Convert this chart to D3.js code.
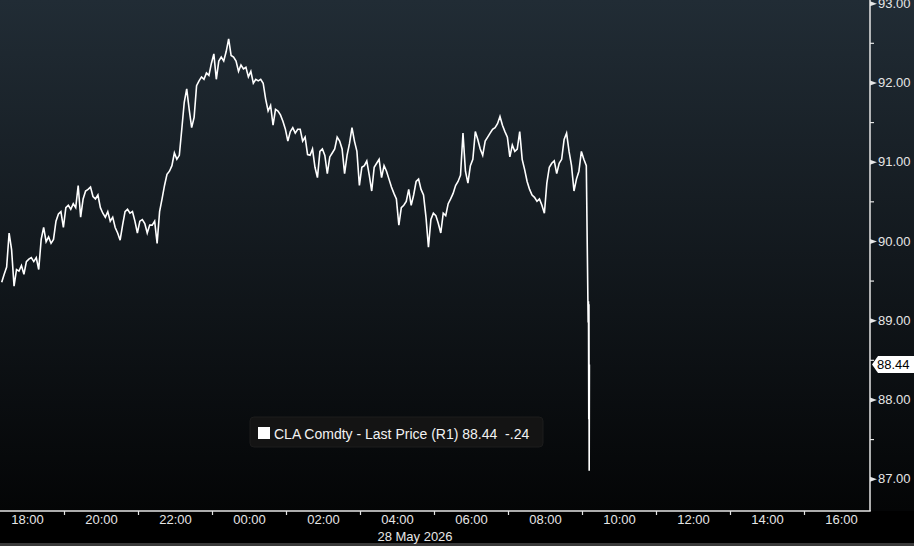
<!DOCTYPE html>
<html><head><meta charset="utf-8">
<script src="https://cdn.jsdelivr.net/npm/d3@7"></script>
<style>html,body{margin:0;padding:0;background:#000;} svg{display:block;}</style>
</head><body><svg id="chart" width="914" height="546"></svg>
<script>
// ---------------- data ----------------
const seriesName = "CLA Comdty - Last Price (R1)";
const lastPrice = 88.44;
const lastChange = "-.24";
const dateLabel = "28 May 2026";
const startTime = "2026-05-27T17:19:00";
const stepMinutes = 4;
const prices = [
 89.48,89.58,89.67,90.10,89.89,89.43,89.64,89.62,89.69,89.58,
 89.74,89.77,89.79,89.74,89.79,89.64,90.02,90.17,89.99,90.05,
 89.97,90.02,90.25,90.34,90.37,90.17,90.42,90.45,90.40,90.47,
 90.42,90.70,90.30,90.53,90.63,90.65,90.68,90.56,90.53,90.58,
 90.42,90.35,90.30,90.37,90.25,90.30,90.17,90.10,90.01,90.20,
 90.37,90.40,90.35,90.37,90.25,90.10,90.25,90.27,90.22,90.10,
 90.20,90.20,90.25,89.97,90.37,90.53,90.70,90.84,90.88,90.95,
 91.11,91.03,91.08,91.41,91.75,91.92,91.66,91.43,91.56,91.96,
 92.02,92.07,92.04,92.12,92.09,92.24,92.36,92.04,92.27,92.32,
 92.27,92.39,92.55,92.34,92.32,92.27,92.14,92.22,92.17,92.19,
 92.07,92.14,91.99,92.04,92.02,92.04,91.99,91.79,91.64,91.71,
 91.46,91.66,91.64,91.59,91.51,91.41,91.26,91.38,91.43,91.36,
 91.41,91.41,91.26,91.31,91.09,91.08,91.16,90.93,90.80,91.13,
 91.16,91.08,90.85,91.06,91.11,91.16,91.31,91.26,91.16,90.85,
 91.08,91.23,91.43,91.26,91.13,90.70,90.93,90.95,91.01,90.83,
 90.63,90.93,90.98,91.03,90.80,90.95,90.88,90.78,90.68,90.60,
 90.53,90.20,90.42,90.45,90.50,90.65,90.45,90.58,90.75,90.78,
 90.65,90.58,90.30,89.92,90.27,90.35,90.32,90.22,90.10,90.35,
 90.32,90.47,90.53,90.60,90.70,90.75,90.83,91.36,90.88,90.73,
 90.95,91.03,91.38,91.28,91.16,91.08,91.26,91.31,91.36,91.41,
 91.43,91.48,91.57,91.46,91.38,91.31,91.06,91.21,91.13,91.16,
 91.38,91.03,90.90,90.75,90.65,90.58,90.55,90.50,90.53,90.45,
 90.35,90.73,90.93,90.98,91.01,90.85,90.98,91.03,91.28,91.36,
 91.13,90.95,90.63,90.78,90.88,91.13,91.03,90.95
];
const finalTickTimes = ["2026-05-28T09:10:00","2026-05-28T09:10:30","2026-05-28T09:11:00","2026-05-28T09:11:15","2026-05-28T09:11:40","2026-05-28T09:12:00"];
const finalTickPrices = [88.97, 89.24, 87.75, 89.20, 87.10, 88.44];
const yTicks = [87, 88, 89, 90, 91, 92, 93];
const yMinorTicks = [87.5, 88.5, 89.5, 90.5, 91.5, 92.5];
const xLabelTimes = ["2026-05-27T18:00","2026-05-27T20:00","2026-05-27T22:00","2026-05-28T00:00","2026-05-28T02:00","2026-05-28T04:00","2026-05-28T06:00","2026-05-28T08:00","2026-05-28T10:00","2026-05-28T12:00","2026-05-28T14:00","2026-05-28T16:00"];
const xTickTimes = ["2026-05-27T19:00","2026-05-27T21:00","2026-05-27T23:00","2026-05-28T01:00","2026-05-28T03:00","2026-05-28T05:00","2026-05-28T07:00","2026-05-28T09:00","2026-05-28T11:00","2026-05-28T13:00","2026-05-28T15:00"];
const xDomain = ["2026-05-27T17:16:13", "2026-05-28T16:47:02"];

// ---------------- build ----------------
const W = 914, H = 546, plotR = 870, plotB = 511;
const svg = d3.select("#chart");
const parse = s => new Date(s);
const t0 = parse(startTime);
const data = prices.map((p, i) => ({t: new Date(t0.getTime() + i * stepMinutes * 60000), p}));
finalTickTimes.forEach((s, i) => data.push({t: parse(s), p: finalTickPrices[i]}));

const x = d3.scaleTime().domain(xDomain.map(parse)).range([0, plotR]);
const y = d3.scaleLinear().domain([87, 93]).range([478.7, 3.2]);

const defs = svg.append("defs");
const grad = defs.append("linearGradient").attr("id", "bg").attr("gradientUnits", "userSpaceOnUse")
  .attr("x1", 0).attr("y1", 0).attr("x2", 0).attr("y2", plotB);
grad.append("stop").attr("offset", "0%").attr("stop-color", "#212c35");
grad.append("stop").attr("offset", "100%").attr("stop-color", "#040506");
defs.append("clipPath").attr("id", "clip").append("rect").attr("x", 0).attr("y", 0).attr("width", plotR).attr("height", plotB);

svg.append("rect").attr("width", W).attr("height", H).attr("fill", "#000");
svg.append("rect").attr("width", W).attr("height", plotB).attr("fill", "url(#bg)");
svg.append("rect").attr("x", 0).attr("y", 543).attr("width", W).attr("height", 3).attr("fill", "#3a3a3a");

// line
svg.append("path").datum(data)
  .attr("clip-path", "url(#clip)")
  .attr("fill", "none").attr("stroke", "#ffffff").attr("stroke-width", 1.6)
  .attr("stroke-linejoin", "miter")
  .attr("d", d3.line().x(d => x(d.t)).y(d => y(d.p)));

const font = "'Liberation Sans', Arial, sans-serif";
const axisColor = "#e6e6e6";

// bottom axis
const gx = svg.append("g").attr("transform", `translate(0,${plotB})`);
gx.call(d3.axisBottom(x).tickValues(xTickTimes.map(parse)).tickSize(4).tickFormat(""));
gx.select(".domain").remove();
gx.selectAll(".tick line").attr("stroke", axisColor).attr("stroke-width", 1.2);
const gxl = svg.append("g").attr("transform", `translate(0,${plotB})`);
gxl.call(d3.axisBottom(x).tickValues(xLabelTimes.map(parse)).tickSize(0).tickPadding(4).tickFormat(d3.timeFormat("%H:%M")));
gxl.select(".domain").remove();
gxl.selectAll(".tick text").attr("fill", axisColor).attr("font-family", font).attr("font-size", 13).attr("dy", "0.72em");
svg.append("text").attr("x", x(parse("2026-05-28T04:00")) + 18).attr("y", 541)
  .attr("text-anchor", "middle").attr("fill", axisColor).attr("font-family", font).attr("font-size", 13)
  .text(dateLabel);

// axis lines
svg.append("line").attr("x1", 0).attr("x2", plotR + 0.75).attr("y1", plotB).attr("y2", plotB)
  .attr("stroke", axisColor).attr("stroke-width", 1.5);
svg.append("line").attr("x1", plotR).attr("x2", plotR).attr("y1", 0).attr("y2", plotB)
  .attr("stroke", axisColor).attr("stroke-width", 1.5);

// right axis
const gy = svg.append("g").attr("transform", `translate(${plotR},0)`);
gy.call(d3.axisRight(y).tickValues(yTicks).tickSize(0).tickPadding(8).tickFormat(d3.format(".2f")));
gy.select(".domain").remove();
gy.selectAll(".tick text").attr("fill", axisColor).attr("font-family", font).attr("font-size", 13);
gy.selectAll(".tick").append("path").attr("d", "M0,-2.5L7,0L0,2.5Z").attr("fill", axisColor);
const gym = svg.append("g").attr("transform", `translate(${plotR},0)`);
gym.call(d3.axisRight(y).tickValues(yMinorTicks).tickSize(4).tickFormat(""));
gym.select(".domain").remove();
gym.selectAll(".tick line").attr("stroke", axisColor).attr("stroke-width", 1.2);

// last price tag
const ly = y(lastPrice);
svg.append("path").attr("d", `M${plotR + 2},${ly}L${plotR + 8},${ly - 8.5}H${W}V${ly + 8.5}H${plotR + 8}Z`).attr("fill", "#ffffff");
svg.append("text").attr("x", plotR + 7).attr("y", ly).attr("dy", "0.36em")
  .attr("fill", "#000").attr("font-family", font).attr("font-size", 13).text(d3.format(".2f")(lastPrice));

// legend
const lg = svg.append("g").attr("transform", "translate(250,417)");
lg.append("rect").attr("width", 293).attr("height", 30).attr("rx", 4).attr("fill", "#141414").attr("stroke", "#1c1c1c");
lg.append("rect").attr("x", 8).attr("y", 10).attr("width", 12).attr("height", 12).attr("fill", "#ffffff");
lg.append("text").attr("x", 24).attr("y", 21.5).attr("fill", "#f2f2f2").attr("font-family", font).attr("font-size", 14)
  .attr("xml:space", "preserve").style("white-space", "pre")
  .text(`${seriesName} ${d3.format(".2f")(lastPrice)}  ${lastChange}`);
</script></body></html>
